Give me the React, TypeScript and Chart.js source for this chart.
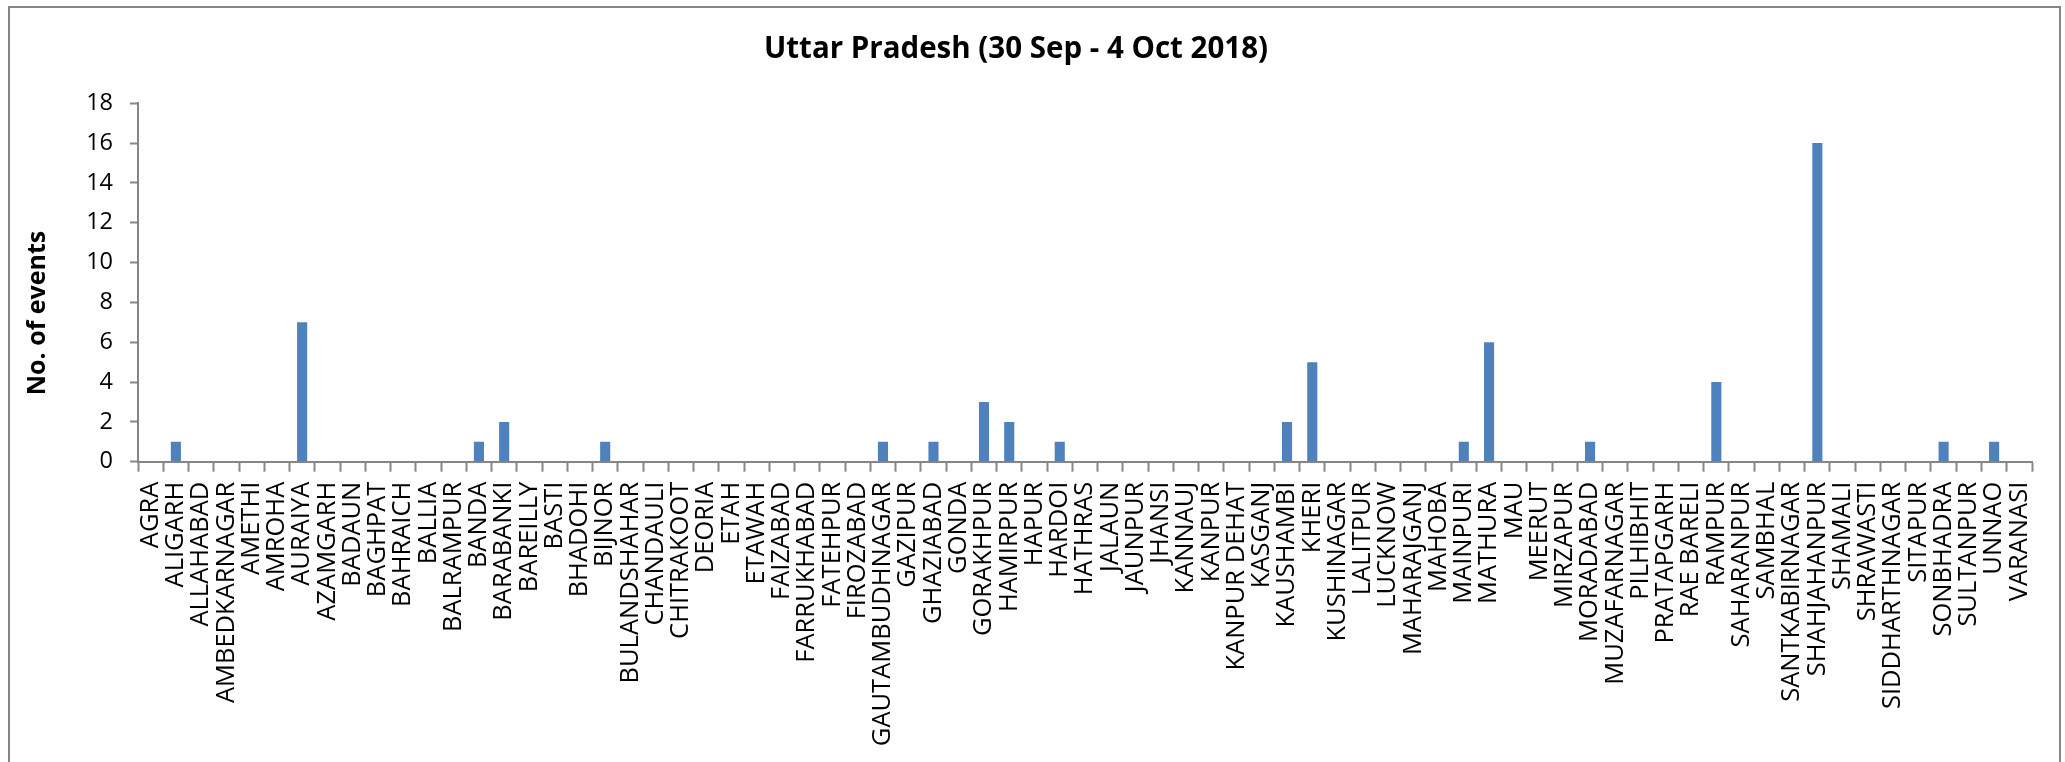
import React, { useEffect, useRef } from "react";
import { Chart, registerables } from "chart.js";

Chart.register(...registerables);

const chartTitle = "Uttar Pradesh (30 Sep - 4 Oct 2018)";
const yAxisTitle = "No. of events";

const districts = [
  "AGRA", "ALIGARH", "ALLAHABAD", "AMBEDKARNAGAR", "AMETHI", "AMROHA", "AURAIYA", "AZAMGARH",
  "BADAUN", "BAGHPAT", "BAHRAICH", "BALLIA", "BALRAMPUR", "BANDA", "BARABANKI", "BAREILLY",
  "BASTI", "BHADOHI", "BIJNOR", "BULANDSHAHAR", "CHANDAULI", "CHITRAKOOT", "DEORIA", "ETAH",
  "ETAWAH", "FAIZABAD", "FARRUKHABAD", "FATEHPUR", "FIROZABAD", "GAUTAMBUDHNAGAR", "GAZIPUR",
  "GHAZIABAD", "GONDA", "GORAKHPUR", "HAMIRPUR", "HAPUR", "HARDOI", "HATHRAS", "JALAUN",
  "JAUNPUR", "JHANSI", "KANNAUJ", "KANPUR", "KANPUR DEHAT", "KASGANJ", "KAUSHAMBI", "KHERI",
  "KUSHINAGAR", "LALITPUR", "LUCKNOW", "MAHARAJGANJ", "MAHOBA", "MAINPURI", "MATHURA", "MAU",
  "MEERUT", "MIRZAPUR", "MORADABAD", "MUZAFARNAGAR", "PILHIBHIT", "PRATAPGARH", "RAE BARELI",
  "RAMPUR", "SAHARANPUR", "SAMBHAL", "SANTKABIRNAGAR", "SHAHJAHANPUR", "SHAMALI", "SHRAWASTI",
  "SIDDHARTHNAGAR", "SITAPUR", "SONBHADRA", "SULTANPUR", "UNNAO", "VARANASI",
];

const events = [
  0, 1, 0, 0, 0, 0, 7, 0,
  0, 0, 0, 0, 0, 1, 2, 0,
  0, 0, 1, 0, 0, 0, 0, 0,
  0, 0, 0, 0, 0, 1, 0,
  1, 0, 3, 2, 0, 1, 0, 0,
  0, 0, 0, 0, 0, 0, 2, 5,
  0, 0, 0, 0, 0, 1, 6, 0,
  0, 0, 1, 0, 0, 0, 0,
  4, 0, 0, 0, 16, 0, 0,
  0, 0, 1, 0, 1, 0,
];

const yTicks = { min: 0, max: 18, step: 2 };

const GRAY = "#868686";
const BAR = "#4F81BD";

const frame = {
  id: "frame",
  beforeDraw(chart: any) {
    const ctx = chart.ctx;
    ctx.save();
    ctx.fillStyle = "#ffffff";
    ctx.fillRect(0, 0, chart.width, chart.height);
    ctx.strokeStyle = GRAY;
    ctx.lineWidth = 2;
    ctx.strokeRect(9, 7, 2051, 800);
    ctx.restore();
  },
};

const yTitle = {
  id: "yTitle",
  afterDraw(chart: any) {
    const ctx = chart.ctx;
    ctx.save();
    ctx.translate(38, 313);
    ctx.rotate(-Math.PI / 2);
    ctx.font = "bold 25px 'Open Sans'";
    ctx.fillStyle = "#000";
    ctx.textAlign = "center";
    ctx.textBaseline = "middle";
    ctx.fillText(yAxisTitle, 0, 0);
    ctx.restore();
  },
};

export default function App() {
  const ref = useRef<HTMLCanvasElement | null>(null);
  useEffect(() => {
    if (!ref.current) return;
    const chart = new Chart(ref.current, {
      type: "bar",
      data: {
        labels: districts,
        datasets: [
          {
            label: "Events",
            data: events,
            backgroundColor: BAR,
            borderWidth: 0,
            categoryPercentage: 1,
            barPercentage: 0.4,
          },
        ],
      },
      options: {
        responsive: false,
        animation: false,
        devicePixelRatio: 1,
        layout: { padding: { left: 0, right: 33, top: 0, bottom: 0 } },
        plugins: {
          legend: { display: false },
          tooltip: { enabled: false },
          title: {
            display: true,
            text: chartTitle,
            color: "#000",
            font: { family: "'Open Sans'", size: 29.5, weight: "bold" },
            padding: { top: 32.3, bottom: 35.6 },
          },
        },
        scales: {
          x: {
            offset: true,
            grid: {
              display: true,
              offset: true,
              drawOnChartArea: false,
              drawTicks: true,
              tickLength: 10,
              tickWidth: 2,
              color: GRAY,
            },
            border: { display: true, color: GRAY, width: 2 },
            ticks: {
              autoSkip: false,
              maxRotation: 90,
              minRotation: 90,
              padding: 10,
              color: "#000",
              font: { family: "'Open Sans'", size: 25.5 },
            },
            afterFit(scale: any) {
              scale.height = 300.3;
            },
          },
          y: {
            min: yTicks.min,
            max: yTicks.max,
            grid: {
              display: true,
              drawOnChartArea: false,
              drawTicks: true,
              tickLength: 8,
              tickWidth: 2,
              color: GRAY,
            },
            border: { display: true, color: GRAY, width: 2 },
            ticks: {
              stepSize: yTicks.step,
              padding: 17,
              color: "#000",
              font: { family: "'Open Sans'", size: 23.5 },
            },
            afterFit(scale: any) {
              scale.width = 138;
            },
          },
        },
      },
      plugins: [frame, yTitle],
    });
    return () => chart.destroy();
  }, []);
  return (
    <div style={{ position: "absolute", left: 0, top: 0, width: 2065, height: 762, background: "#fff" }}>
      <canvas ref={ref} width={2065} height={762} />
    </div>
  );
}
